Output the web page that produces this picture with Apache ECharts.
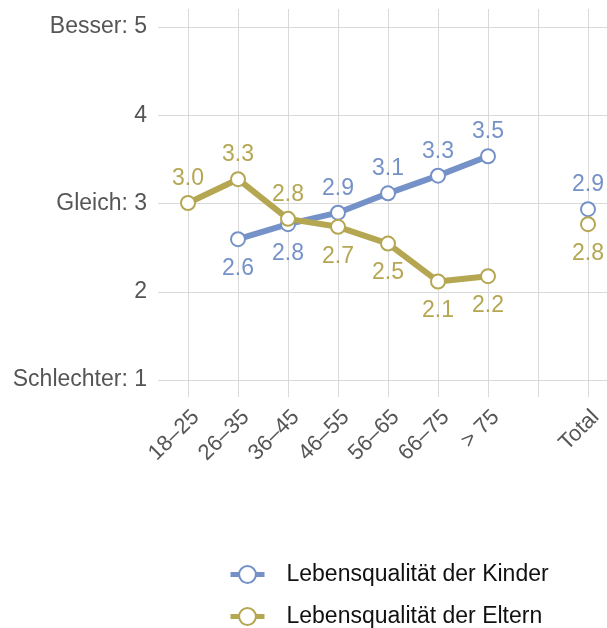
<!DOCTYPE html>
<html><head><meta charset="utf-8">
<script src="https://cdn.jsdelivr.net/npm/echarts@6/dist/echarts.min.js"></script>
<style>html,body{margin:0;padding:0;background:#fff}#c{width:607px;height:628px}</style>
</head><body><div id="c"></div>
<script>
const categories = ['18–25','26–35','36–45','46–55','56–65','66–75','> 75','','Total'];
const kinder = [null,2.59,2.76,2.89,3.11,3.31,3.53,null,2.93];
const eltern = [3.0,3.27,2.82,2.73,2.54,2.11,2.17,null,2.76];
const yTicks = [1,2,3,4,5];
const yTickNames = {1:'Schlechter: 1',3:'Gleich: 3',5:'Besser: 5'};
const seriesNames = ['Lebensqualität der Kinder','Lebensqualität der Eltern'];

const FONT = 'Liberation Sans, Arial, sans-serif';
const colors = ['#7592C8','#B5A752'];
const gridColor = '#d9d9d9';

function mkData(vals, other){
  return vals.map((v,i)=>{
    if(v==null) return null;
    const o = other[i];
    const above = (o==null || v>=o);
    return {value:v, label:{position: above?'top':'bottom', distance: above?5:10}};
  });
}

const chart = echarts.init(document.getElementById('c'), null, {renderer:'canvas'});
const mkSeries = (name, vals, other, color) => ({
  name, type:'line', xAxisIndex:1, yAxisIndex:1,
  data: mkData(vals, other),
  connectNulls:false,
  symbol:'circle', symbolSize:14,
  lineStyle:{width:6, color},
  itemStyle:{color:'#fff', borderColor:color, borderWidth:2},
  label:{show:true, fontSize:23, fontFamily:FONT, color,
    formatter:p=>p.value.toFixed(1)},
  emphasis:{disabled:true}, animation:false
});

const legendBase = {
  orient:'vertical', left:228, padding:0, itemWidth:34, itemHeight:21,
  lineStyle:{width:5},
  textStyle:{fontSize:23, fontFamily:FONT, color:'#111', padding:[0,0,0,17]}
};

chart.setOption({
  animation:false,
  grid:[
    {left:158, right:0, top:27, bottom:248, containLabel:false},
    {left:188, right:19, top:9, bottom:231, containLabel:false}
  ],
  xAxis:[
    {gridIndex:0, type:'value', show:false, min:0, max:1},
    {gridIndex:1, type:'category', data:categories, boundaryGap:false,
      axisLine:{show:false}, axisTick:{show:false},
      splitLine:{show:true, lineStyle:{color:gridColor, width:1}},
      axisLabel:{rotate:45, fontSize:22, fontFamily:FONT, color:'#555', margin:9,
        verticalAlign:'top', interval:0}}
  ],
  yAxis:[
    {gridIndex:0, type:'value', min:yTicks[0], max:yTicks[yTicks.length-1], interval:1,
      axisLine:{show:false}, axisTick:{show:false},
      splitLine:{show:true, lineStyle:{color:gridColor, width:1}},
      axisLabel:{fontSize:23, fontFamily:FONT, color:'#555', margin:11,
        formatter:v=>yTickNames[v]||String(v)}},
    {gridIndex:1, type:'value', min:0.8, max:5.2, show:false}
  ],
  legend:[
    Object.assign({}, legendBase, {top:563, data:[seriesNames[0]]}),
    Object.assign({}, legendBase, {top:605, data:[seriesNames[1]]})
  ],
  series:[
    mkSeries(seriesNames[0], kinder, eltern, colors[0]),
    mkSeries(seriesNames[1], eltern, kinder, colors[1])
  ]
});
</script></body></html>
